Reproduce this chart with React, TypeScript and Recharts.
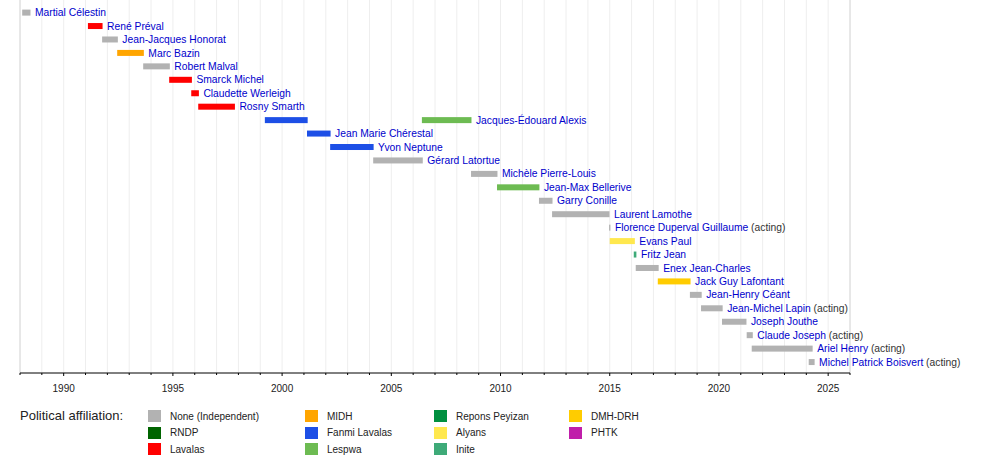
import React from 'react';
import { BarChart, Bar, XAxis, YAxis, CartesianGrid } from 'recharts';

const names = [
  'Martial Célestin', 'René Préval', 'Jean-Jacques Honorat', 'Marc Bazin', 'Robert Malval',
  'Smarck Michel', 'Claudette Werleigh', 'Rosny Smarth', 'Jacques-Édouard Alexis',
  'Jean Marie Chérestal', 'Yvon Neptune', 'Gérard Latortue', 'Michèle Pierre-Louis',
  'Jean-Max Bellerive', 'Garry Conille', 'Laurent Lamothe', 'Florence Duperval Guillaume',
  'Evans Paul', 'Fritz Jean', 'Enex Jean-Charles', 'Jack Guy Lafontant', 'Jean-Henry Céant',
  'Jean-Michel Lapin', 'Joseph Jouthe', 'Claude Joseph', 'Ariel Henry', 'Michel Patrick Boisvert',
];

const termStart = [
  1988.1, 1991.11, 1991.76, 1992.45, 1993.64, 1994.83, 1995.84, 1996.16, 1999.21,
  2001.14, 2002.2, 2004.17, 2008.65, 2009.84, 2011.76, 2012.36, 2014.97,
  2015.0, 2016.1, 2016.19, 2017.2, 2018.67, 2019.18, 2020.14, 2021.27, 2021.5, 2024.11,
];

const termEnd = [
  1988.48, 1991.78, 1992.48, 1993.67, 1994.86, 1995.87, 1996.19, 1997.84, 2001.17,
  2002.22, 2004.19, 2006.44, 2009.86, 2011.78, 2012.38, 2014.99, 2015.03,
  2016.15, 2016.22, 2017.24, 2018.7, 2019.21, 2020.17, 2021.26, 2021.55, 2024.29, 2024.38,
];

const parties = [
  'None', 'Lavalas', 'None', 'MIDH', 'None', 'Lavalas', 'Lavalas', 'Lavalas', 'Fanmi Lavalas',
  'Fanmi Lavalas', 'Fanmi Lavalas', 'None', 'None', 'Lespwa', 'None', 'None', 'None',
  'Alyans', 'Inite', 'None', 'DMH-DRH', 'None', 'None', 'None', 'None', 'None', 'None',
];

const actingRows = [16, 22, 24, 25, 26];

// Alexis' second term, drawn on the same row
const secondTerms = [{ row: 8, start: 2006.4, end: 2008.67, party: 'Lespwa' }];

const legendNames = [
  'None (Independent)', 'RNDP', 'Lavalas', 'MIDH', 'Fanmi Lavalas', 'Lespwa',
  'Repons Peyizan', 'Alyans', 'Inite', 'DMH-DRH', 'PHTK',
];
const legendKeys = [
  'None', 'RNDP', 'Lavalas', 'MIDH', 'Fanmi Lavalas', 'Lespwa',
  'Repons Peyizan', 'Alyans', 'Inite', 'DMH-DRH', 'PHTK',
];

const partyColors: Record<string, string> = {
  None: '#b2b2b2',
  RNDP: '#006400',
  Lavalas: '#ff0000',
  MIDH: '#ffa500',
  'Fanmi Lavalas': '#1d4fe6',
  Lespwa: '#6dbb52',
  'Repons Peyizan': '#009040',
  Alyans: '#ffe84e',
  Inite: '#3eaa78',
  'DMH-DRH': '#ffcc00',
  PHTK: '#c01eaa',
};

const years: number[] = [];
for (let y = 1988; y <= 2026; y++) years.push(y);
const majorYears = years.filter(y => y % 5 === 0);

const rows = names.map((name, i) => {
  const second = secondTerms.find(t => t.row === i);
  return {
    name,
    a: [termStart[i], termEnd[i]],
    b: second ? [second.start, second.end] : null,
    partyA: parties[i],
    partyB: second ? second.party : null,
    acting: actingRows.includes(i),
  };
});

const FONT = '"Liberation Sans", Arial, sans-serif';

const TermLabel = ({ x, y, row }: any) => (
  <text x={x} y={y} fontSize={10.3} fontFamily={FONT}>
    <tspan fill="#0000cc">{row.name}</tspan>
    {row.acting && <tspan fill="#333"> (acting)</tspan>}
  </text>
);

const makeShape = (which: 'a' | 'b') => (props: any) => {
  const { x, y, width, height, payload } = props;
  if (which === 'b' && !payload.b) return <g />;
  const party = which === 'a' ? payload.partyA : payload.partyB;
  const showLabel = which === 'b' || !payload.b;
  return (
    <g>
      <rect x={x} y={y} width={Math.max(width, 1)} height={height} fill={partyColors[party]} />
      {showLabel && <TermLabel x={x + width + 4.5} y={y + height / 2 + 3.6} row={payload} />}
    </g>
  );
};

const YearTick = (props: any) => {
  const { x, y, payload } = props;
  const yr = payload.value;
  const major = yr % 5 === 0;
  const axisY = y - 1;
  return (
    <g>
      <line x1={x} x2={x} y1={axisY} y2={axisY + (major ? 3 : 2)} stroke="#000" />
      {major && (
        <text x={x} y={axisY + 18.5} textAnchor="middle" fontSize={10} fontFamily={FONT} fill="#222">
          {yr}
        </text>
      )}
    </g>
  );
};

const yPadding = { top: 5.6, bottom: 4.5 };

export default function App() {
  return (
    <div style={{ position: 'absolute', left: 0, top: 0, width: 1000, height: 462, background: '#fff', fontFamily: FONT }}>
      <BarChart
        width={1000}
        height={400}
        data={rows}
        layout="vertical"
        margin={{ top: 0, right: 150, left: 20, bottom: 0 }}
      >
        <CartesianGrid horizontal={false} stroke="#eeeeee" strokeDasharray="" />
        <CartesianGrid horizontal={false} xAxisId="major" stroke="#d8d8d8" strokeDasharray="" />
        <XAxis
          type="number"
          domain={[1988, 2026]}
          ticks={years}
          interval={0}
          height={27}
          tickSize={1}
          tickMargin={0}
          tickLine={false}
          tick={<YearTick />}
          axisLine={{ stroke: '#000' }}
        />
        <XAxis
          xAxisId="major"
          type="number"
          domain={[1988, 2026]}
          ticks={majorYears}
          interval={0}
          hide
        />
        <YAxis
          type="category"
          dataKey="name"
          width={0}
          tick={false}
          tickLine={false}
          axisLine={{ stroke: '#000' }}
          padding={yPadding}
        />
        <YAxis yAxisId="second" type="category" dataKey="name" hide padding={yPadding} />
        <Bar dataKey="a" barSize={6} isAnimationActive={false} shape={makeShape('a')} />
        <Bar dataKey="b" yAxisId="second" barSize={6} isAnimationActive={false} shape={makeShape('b')} />
      </BarChart>
      <div style={{ position: 'absolute', left: 20, top: 407.5, fontSize: 13, color: '#222', lineHeight: '16px' }}>
        Political affiliation:
      </div>
      {legendNames.map((label, i) => {
        const col = Math.floor(i / 3);
        const r = i % 3;
        const left = [148, 305, 434, 569][col];
        const top = 410 + r * 16.5;
        return (
          <div key={label} style={{ position: 'absolute', left, top, height: 12, display: 'flex', alignItems: 'center' }}>
            <div style={{ width: 13, height: 12, background: partyColors[legendKeys[i]] }} />
            <span style={{ marginLeft: 9, fontSize: 10, color: '#222', whiteSpace: 'nowrap' }}>{label}</span>
          </div>
        );
      })}
    </div>
  );
}
